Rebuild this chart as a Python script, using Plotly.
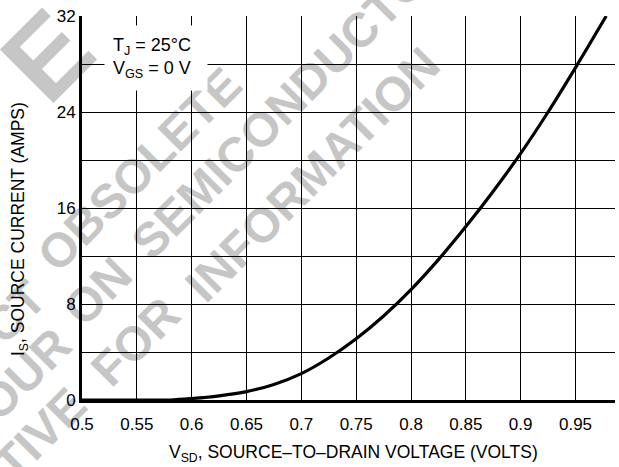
import plotly.graph_objects as go

# Data
vsd = [0.5, 0.55, 0.58, 0.6, 0.625, 0.65, 0.675, 0.7, 0.725, 0.75, 0.775, 0.8, 0.825, 0.85, 0.875, 0.9, 0.925, 0.95, 0.978]
i_s = [0, 0, 0, 0.12, 0.35, 0.7, 1.3, 2.2, 3.5, 5.1, 7.0, 9.2, 11.7, 14.45, 17.4, 20.55, 24.0, 27.7, 32]

x_tickvals = [0.5, 0.55, 0.6, 0.65, 0.7, 0.75, 0.8, 0.85, 0.9, 0.95]
x_ticktext = ["0.5", "0.55", "0.6", "0.65", "0.7", "0.75", "0.8", "0.85", "0.9", "0.95"]
y_tickvals = [0, 4, 8, 12, 16, 20, 24, 28, 32]
y_ticktext = ["0", "", "8", "", "16", "", "24", "", "32"]

# Watermark words (text, center px x, center px y, font size)
wm_words = ["E", "PRODUCT", "OBSOLETE", "YOUR", "ON", "SEMICONDUCTOR", "REPRESENTATIVE", "FOR", "INFORMATION"]
wm_cx = [40, -50, 136, 10, 94, 288, -77, 132, 309]
wm_cy = [48, 370, 166, 382, 288, 95, 544, 338, 171]
wm_size = [110, 48, 48, 48, 48, 48, 48, 48, 48]

W, H = 619, 467
L, R, T, B = 82, 4, 16, 67
PW, PH = W - L - R, H - T - B

def px2paper(px, py):
    return (px - L) / PW, (H - B - py) / PH

FONT = "Liberation Sans, Arial, sans-serif"

fig = go.Figure()
fig.add_trace(go.Scatter(x=vsd, y=i_s, mode="lines",
                         line=dict(color="black", width=3.2, shape="spline", smoothing=1.0),
                         hoverinfo="skip", showlegend=False))

shapes = []
for w, cx, cy, fs in zip(wm_words, wm_cx, wm_cy, wm_size):
    px, py = px2paper(cx, cy)
    shapes.append(dict(type="rect", xref="paper", yref="paper",
                       x0=px - 0.001, x1=px + 0.001, y0=py - 0.001, y1=py + 0.001,
                       line=dict(width=0, color="rgba(0,0,0,0)"), fillcolor="rgba(0,0,0,0)",
                       layer="below",
                       label=dict(text="<b>" + w + "</b>", textangle=-45, textposition="middle center",
                                  font=dict(family=FONT, size=fs, color="#c6c6c6"))))

annotations = []
ax, ay = px2paper(353, 453)
annotations.append(dict(text="V<sub>SD</sub>, SOURCE–TO–DRAIN VOLTAGE (VOLTS)", xref="paper", yref="paper",
                        x=ax, y=ay, showarrow=False, xanchor="center", yanchor="middle",
                        font=dict(family=FONT, size=17.5, color="black")))
ax, ay = px2paper(19, 229)
annotations.append(dict(text="I<sub>S</sub>, SOURCE CURRENT (AMPS)", xref="paper", yref="paper",
                        x=ax, y=ay, showarrow=False, xanchor="center", yanchor="middle", textangle=-90,
                        font=dict(family=FONT, size=17.5, color="black")))
ax, ay = px2paper(156, 58)
annotations.append(dict(text="T<sub>J</sub> = 25°C<br>V<sub>GS</sub> = 0 V", xref="paper", yref="paper",
                        x=ax, y=ay, showarrow=False, xanchor="center", yanchor="middle", align="left",
                        bgcolor="white", width=86, height=48, borderpad=8,
                        font=dict(family=FONT, size=18, color="black")))

fig.update_layout(
    width=W, height=H,
    margin=dict(l=L, r=R, t=T, b=B),
    paper_bgcolor="white", plot_bgcolor="rgba(0,0,0,0)",
    shapes=shapes, annotations=annotations,
    xaxis=dict(range=[0.5, 0.986], tickvals=x_tickvals, ticktext=x_ticktext,
               showgrid=True, gridcolor="black", gridwidth=1.2, zeroline=False,
               showline=True, linecolor="black", linewidth=3, ticks="", ticklabelstandoff=7,
               tickfont=dict(family=FONT, size=17, color="black")),
    yaxis=dict(range=[0, 32], tickvals=y_tickvals, ticktext=y_ticktext,
               showgrid=True, gridcolor="black", gridwidth=1.2, zeroline=False,
               showline=True, linecolor="black", linewidth=3, ticks="",
               tickfont=dict(family=FONT, size=17, color="black")),
)
fig.write_html("out.html", config={"displayModeBar": False},
               post_script="document.body.style.margin='0px';")
